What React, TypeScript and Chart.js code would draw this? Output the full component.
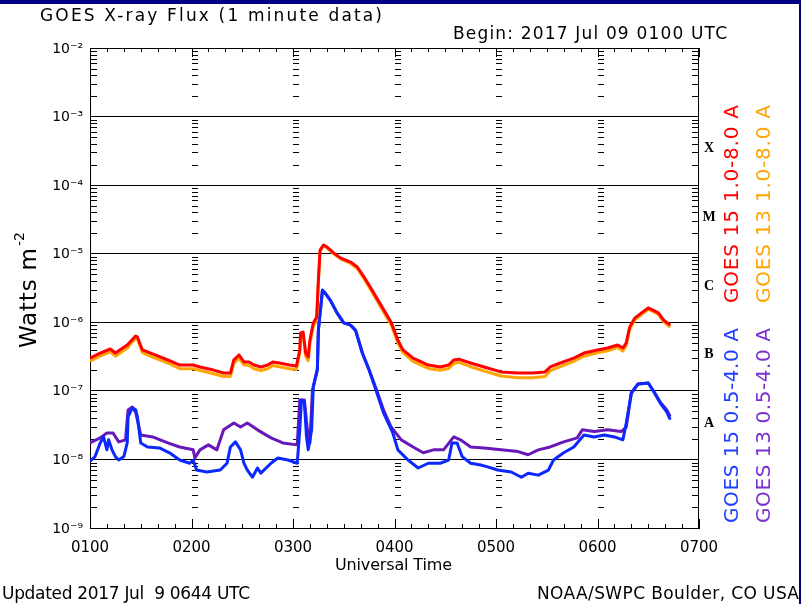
import { useEffect, useRef } from 'react';
import { Chart, registerables } from 'chart.js';

Chart.register(...registerables);

// ---------- axis labels ----------
const X_TICK_MINUTES = [0, 60, 120, 180, 240, 300, 360];
const X_TICK_LABELS = ['0100', '0200', '0300', '0400', '0500', '0600', '0700'];
const Y_TICK_VALUES = [1e-9, 1e-8, 1e-7, 1e-6, 1e-5, 1e-4, 1e-3, 1e-2];
const Y_TICK_LABELS = ['10⁻⁹', '10⁻⁸', '10⁻⁷', '10⁻⁶', '10⁻⁵', '10⁻⁴', '10⁻³', '10⁻²'];
const CLASS_LETTERS = ['A', 'B', 'C', 'M', 'X'];
const CLASS_LOWER = [1e-8, 1e-7, 1e-6, 1e-5, 1e-4];

// ---------- data (minutes after 0100 UTC, flux W m^-2) ----------
const LONG_MIN = [0, 6, 12, 15, 22, 27, 28, 31, 37, 46, 53, 61, 65, 73, 79, 83, 85, 88, 91, 94, 97, 101, 105, 108, 112, 118, 122, 124, 124.5, 126, 127.5, 129, 130, 132, 134, 135, 136, 138, 140, 144, 148, 154, 158, 162, 166, 172, 178, 182, 185, 191, 200, 207, 212, 215, 218, 225, 233, 243, 253, 262, 269, 272, 278, 286, 292, 300, 306, 312, 315, 317, 319, 322, 326, 330, 336, 339, 343];
const G15_LONG = [3.0e-7, 3.56e-7, 4.08e-7, 3.56e-7, 4.66e-7, 6.3e-7, 6.1e-7, 3.95e-7, 3.45e-7, 2.82e-7, 2.38e-7, 2.38e-7, 2.23e-7, 2.01e-7, 1.82e-7, 1.82e-7, 2.82e-7, 3.34e-7, 2.64e-7, 2.64e-7, 2.38e-7, 2.23e-7, 2.38e-7, 2.64e-7, 2.55e-7, 2.38e-7, 2.3e-7, 3.95e-7, 6.98e-7, 7.2e-7, 3.56e-7, 3.12e-7, 5.5e-7, 9.8e-7, 1.19e-6, 4.1e-6, 1.13e-5, 1.34e-5, 1.26e-5, 1.03e-5, 8.7e-6, 7.56e-6, 6.4e-6, 4.57e-6, 3.16e-6, 1.78e-6, 1.0e-6, 5.5e-7, 3.95e-7, 3.0e-7, 2.38e-7, 2.23e-7, 2.38e-7, 2.82e-7, 2.9e-7, 2.55e-7, 2.23e-7, 1.89e-7, 1.82e-7, 1.82e-7, 1.89e-7, 2.23e-7, 2.55e-7, 3.0e-7, 3.56e-7, 3.95e-7, 4.22e-7, 4.66e-7, 4.22e-7, 5.0e-7, 8.5e-7, 1.15e-6, 1.37e-6, 1.62e-6, 1.37e-6, 1.08e-6, 9.1e-7];
const G13_LONG = [2.7e-7, 3.2e-7, 3.7e-7, 3.2e-7, 4.2e-7, 5.9e-7, 5.7e-7, 3.6e-7, 3.1e-7, 2.55e-7, 2.1e-7, 2.1e-7, 1.98e-7, 1.78e-7, 1.62e-7, 1.62e-7, 2.5e-7, 3.0e-7, 2.4e-7, 2.35e-7, 2.1e-7, 1.98e-7, 2.1e-7, 2.35e-7, 2.25e-7, 2.1e-7, 2.05e-7, 3.5e-7, 6.3e-7, 6.5e-7, 3.2e-7, 2.75e-7, 4.9e-7, 8.8e-7, 1.08e-6, 3.8e-6, 1.08e-5, 1.32e-5, 1.22e-5, 1.0e-5, 8.4e-6, 7.2e-6, 6.1e-6, 4.3e-6, 2.95e-6, 1.65e-6, 9.2e-7, 5.0e-7, 3.6e-7, 2.7e-7, 2.12e-7, 2.0e-7, 2.12e-7, 2.5e-7, 2.6e-7, 2.25e-7, 1.95e-7, 1.65e-7, 1.55e-7, 1.55e-7, 1.62e-7, 1.95e-7, 2.25e-7, 2.7e-7, 3.2e-7, 3.6e-7, 3.85e-7, 4.3e-7, 3.8e-7, 4.6e-7, 7.9e-7, 1.08e-6, 1.3e-6, 1.55e-6, 1.3e-6, 1.02e-6, 8.5e-7];

const G15_SHORT_MIN = [0, 3, 6, 8, 10, 11, 13, 15, 17, 20, 22, 22.5, 25, 27, 28, 30, 34, 41, 47, 53, 59, 61, 63, 69, 77, 81, 83, 86, 89, 91, 93, 96, 99, 101, 107, 111, 117, 122.5, 124, 125, 126.7, 128, 129, 131, 132, 134.4, 135, 137.4, 139, 142, 146, 150, 154, 157, 161, 165, 169, 173.5, 179, 182, 188, 194, 200, 207, 212, 214, 217, 220, 225, 231, 235, 241, 249, 255, 259, 265, 271, 274, 280, 286, 292, 298, 304, 310, 315, 317, 320, 324, 330, 333, 337, 341, 343];
const G15_SHORT = [9.4e-9, 1.1e-8, 1.74e-8, 2.13e-8, 1.38e-8, 1.93e-8, 1.38e-8, 1.1e-8, 9.8e-9, 1.1e-8, 1.74e-8, 4.18e-8, 5.65e-8, 5.28e-8, 4.18e-8, 1.74e-8, 1.52e-8, 1.47e-8, 1.25e-8, 9.8e-9, 8.8e-9, 9.8e-9, 7.0e-9, 6.55e-9, 7.0e-9, 8.8e-9, 1.52e-8, 1.8e-8, 1.38e-8, 8.8e-9, 7.0e-9, 5.5e-9, 7.5e-9, 6.3e-9, 8.8e-9, 1.05e-8, 9.8e-9, 8.8e-9, 2.7e-8, 7.36e-8, 6.9e-8, 2.13e-8, 1.38e-8, 2.7e-8, 1.14e-7, 2.01e-7, 7.7e-7, 2.96e-6, 2.67e-6, 2.11e-6, 1.37e-6, 9.8e-7, 9.1e-7, 7.7e-7, 3.56e-7, 2.01e-7, 1.03e-7, 4.77e-8, 2.43e-8, 1.38e-8, 9.8e-9, 7.5e-9, 8.8e-9, 8.8e-9, 9.8e-9, 1.74e-8, 1.74e-8, 1.1e-8, 8.8e-9, 8.3e-9, 7.8e-9, 7.0e-9, 6.55e-9, 5.5e-9, 6.3e-9, 5.9e-9, 7.0e-9, 9.8e-9, 1.25e-8, 1.52e-8, 2.27e-8, 2.13e-8, 2.27e-8, 2.13e-8, 1.93e-8, 3.4e-8, 9.3e-8, 1.26e-7, 1.3e-7, 1.0e-7, 6.7e-8, 4.9e-8, 3.8e-8];

const G13_SHORT_MIN = [0, 6, 10, 13.6, 17, 21, 22.5, 25, 27, 30, 37, 46, 53, 61, 62, 65, 70, 75, 79, 85, 89, 93, 99, 107, 114, 122.5, 124, 126.7, 128.5, 130, 131.5, 134.4, 135, 137.4, 139, 142, 146, 150, 154, 157, 161, 165, 169, 173.5, 178, 184, 191, 197, 203, 209, 215, 219, 225, 233, 243, 253, 259, 265, 272, 280, 288, 291, 298, 306, 314, 317, 320, 324, 330, 333, 337, 341, 343];
const G13_SHORT = [1.74e-8, 2.06e-8, 2.43e-8, 2.43e-8, 1.8e-8, 1.93e-8, 5.28e-8, 5.8e-8, 4.9e-8, 2.27e-8, 2.13e-8, 1.74e-8, 1.52e-8, 1.38e-8, 1.05e-8, 1.38e-8, 1.63e-8, 1.38e-8, 2.7e-8, 3.4e-8, 2.97e-8, 3.4e-8, 2.7e-8, 2.06e-8, 1.74e-8, 1.63e-8, 7.36e-8, 7.36e-8, 2.7e-8, 1.74e-8, 1.03e-7, 2.1e-7, 7.7e-7, 2.9e-6, 2.67e-6, 2.11e-6, 1.37e-6, 9.8e-7, 9.1e-7, 7.5e-7, 3.56e-7, 2.01e-7, 1.1e-7, 5.28e-8, 2.97e-8, 1.93e-8, 1.52e-8, 1.25e-8, 1.38e-8, 1.38e-8, 2.13e-8, 1.93e-8, 1.52e-8, 1.47e-8, 1.38e-8, 1.3e-8, 1.17e-8, 1.38e-8, 1.52e-8, 1.8e-8, 2.06e-8, 2.7e-8, 2.55e-8, 2.7e-8, 2.55e-8, 2.97e-8, 9.3e-8, 1.26e-7, 1.3e-7, 1.0e-7, 6.9e-8, 5.28e-8, 4.2e-8];

const SERIES_NAMES = ['GOES 15 1.0-8.0 A', 'GOES 13 1.0-8.0 A', 'GOES 15 0.5-4.0 A', 'GOES 13 0.5-4.0 A'];
const COLORS = ['#ff0000', '#ffa500', '#0a28ff', '#6818b8'];
const TEXT_COLORS = ['#ff0000', '#ffa500', '#1f3dff', '#7a2fd0'];

const FONT = 'DejaVu Sans';

function toPoints(xs: number[], ys: number[]) {
  return xs.map((x, i) => ({ x, y: ys[i] }));
}

function fitText(ctx: any, text: string, x: number, y: number, size: number, width: number, family = FONT, weight = 'normal') {
  ctx.font = `${weight} ${size}px "${family}"`;
  ctx.letterSpacing = '0px';
  const w = ctx.measureText(text).width;
  const n = Array.from(text).length;
  const ls = n > 1 ? Math.max(-1, Math.min(4, (width - w) / (n - 1))) : 0;
  ctx.letterSpacing = `${ls}px`;
  ctx.textAlign = 'left';
  ctx.textBaseline = 'alphabetic';
  ctx.fillText(text, x, y);
  ctx.letterSpacing = '0px';
}

const decorPlugin = {
  id: 'goesDecor',
  beforeDraw(chart: any) {
    const ctx = chart.ctx;
    ctx.save();
    ctx.fillStyle = '#ffffff';
    ctx.fillRect(0, 0, chart.width, chart.height);
    ctx.restore();
  },
  beforeDatasetsDraw(chart: any) {
    const ctx = chart.ctx;
    const { left, right, top, bottom } = chart.chartArea;
    const xs = chart.scales.x;
    const ys = chart.scales.y;
    ctx.save();
    ctx.strokeStyle = '#000';
    ctx.lineWidth = 1;
    ctx.beginPath();
    for (let k = -9; k < -2; k++) {
      for (let m = 2; m <= 9; m++) {
        const y = Math.round(ys.getPixelForValue(m * Math.pow(10, k))) + 0.5;
        ctx.moveTo(left, y);
        ctx.lineTo(left + 7, y);
        ctx.moveTo(right - 7, y);
        ctx.lineTo(right, y);
        for (let h = 60; h < 360; h += 60) {
          const x = Math.round(xs.getPixelForValue(h));
          ctx.moveTo(x, y);
          ctx.lineTo(x + 6, y);
        }
      }
    }
    for (let t = 0; t <= 360; t += 10) {
      const x = Math.round(xs.getPixelForValue(t)) + 0.5;
      const len = t % 60 === 0 ? 9 : 4;
      ctx.moveTo(x, bottom);
      ctx.lineTo(x, bottom - len);
      ctx.moveTo(x, top);
      ctx.lineTo(x, top + len);
    }
    ctx.stroke();
    ctx.beginPath();
    ctx.rect(Math.round(left) + 0.5, Math.round(top) + 0.5, Math.round(right - left) - 1, Math.round(bottom - top));
    ctx.stroke();
    ctx.restore();
  },
  afterDraw(chart: any) {
    const ctx = chart.ctx;
    const ys = chart.scales.y;
    ctx.save();
    ctx.fillStyle = '#000';
    fitText(ctx, 'GOES X-ray Flux (1 minute data)', 40, 21, 17, 342);
    fitText(ctx, 'Begin: 2017 Jul 09 0100 UTC', 453, 39, 17, 274);
    fitText(ctx, 'Updated 2017 Jul  9 0644 UTC', 2, 599, 17, 248);
    fitText(ctx, 'NOAA/SWPC Boulder, CO USA', 537, 599, 17, 262);
    fitText(ctx, 'Universal Time', 335, 570, 16, 117);

    // y axis title
    ctx.save();
    ctx.translate(36, 348);
    ctx.rotate(-Math.PI / 2);
    fitText(ctx, 'Watts m', 0, 0, 23, 100);
    fitText(ctx, '-2', 102, -12, 14, 14);
    ctx.restore();

    // series labels (rotated)
    const labelPos = [
      [738, 303, 198],
      [770, 303, 198],
      [738, 523, 195],
      [770, 523, 195],
    ];
    SERIES_NAMES.forEach((name, i) => {
      const [bx, by, w] = labelPos[i];
      ctx.save();
      ctx.translate(bx, by);
      ctx.rotate(-Math.PI / 2);
      ctx.fillStyle = TEXT_COLORS[i];
      fitText(ctx, name, 0, 0, 20, w);
      ctx.restore();
    });

    // flare class letters
    ctx.fillStyle = '#000';
    ctx.font = 'bold 14px "Liberation Serif"';
    ctx.textAlign = 'center';
    ctx.textBaseline = 'middle';
    CLASS_LETTERS.forEach((c, i) => {
      const lo = CLASS_LOWER[i];
      const y = ys.getPixelForValue(Math.sqrt(lo * lo * 10)) - 2;
      ctx.fillText(c, 709, y);
    });

    // frame
    ctx.fillStyle = '#000080';
    ctx.fillRect(0, 0, chart.width, 4);
    ctx.fillRect(chart.width - 2, 0, 2, chart.height);
    ctx.restore();
  },
};

export default function App() {
  const ref = useRef<HTMLCanvasElement>(null);
  useEffect(() => {
    const canvas = ref.current;
    if (!canvas) return;
    const datasets = [
      { label: SERIES_NAMES[0], data: toPoints(LONG_MIN, G15_LONG), borderColor: COLORS[0], order: 0 },
      { label: SERIES_NAMES[1], data: toPoints(LONG_MIN, G13_LONG), borderColor: COLORS[1], order: 1 },
      { label: SERIES_NAMES[2], data: toPoints(G15_SHORT_MIN, G15_SHORT), borderColor: COLORS[2], order: 2 },
      { label: SERIES_NAMES[3], data: toPoints(G13_SHORT_MIN, G13_SHORT), borderColor: COLORS[3], order: 3 },
    ].map((d) => ({
      ...d,
      borderWidth: 3,
      pointRadius: 0,
      tension: 0,
      fill: false,
      borderJoinStyle: 'round' as const,
    }));

    const chart = new Chart(canvas, {
      type: 'line',
      data: { datasets },
      options: {
        animation: false,
        responsive: false,
        devicePixelRatio: 1,
        layout: { padding: { top: 48, right: 102, bottom: 0, left: 0 } },
        plugins: {
          legend: { display: false },
          tooltip: { enabled: false },
          title: { display: false },
        },
        scales: {
          x: {
            type: 'linear',
            min: 0,
            max: 360,
            afterBuildTicks: (axis: any) => {
              axis.ticks = X_TICK_MINUTES.map((v) => ({ value: v }));
            },
            afterFit: (axis: any) => {
              axis.height = 76;
            },
            ticks: {
              callback: (_v: any, i: number) => X_TICK_LABELS[i],
              font: { family: FONT, size: 15 },
              color: '#000',
              padding: 11,
              maxRotation: 0,
              autoSkip: false,
            },
            grid: { display: false, drawTicks: false },
            border: { display: true, color: '#000', width: 1 },
          },
          y: {
            type: 'logarithmic',
            min: 1e-9,
            max: 1e-2,
            afterBuildTicks: (axis: any) => {
              axis.ticks = Y_TICK_VALUES.map((v) => ({ value: v }));
            },
            afterFit: (axis: any) => {
              axis.width = 90;
            },
            ticks: {
              callback: (_v: any, i: number) => Y_TICK_LABELS[i],
              font: { family: FONT, size: 14 },
              color: '#000',
              padding: 7,
              autoSkip: false,
              labelOffset: 1,
            },
            grid: { color: '#000', lineWidth: 1, drawTicks: false },
            border: { display: true, color: '#000', width: 1 },
          },
        },
      },
      plugins: [decorPlugin],
    } as any);
    return () => chart.destroy();
  }, []);
  return (
    <canvas
      ref={ref}
      width={801}
      height={604}
      style={{ position: 'absolute', left: 0, top: 0, width: 801, height: 604 }}
    />
  );
}
